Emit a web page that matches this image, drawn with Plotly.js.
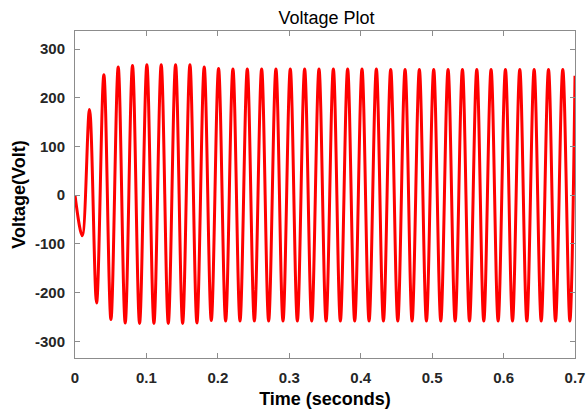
<!DOCTYPE html>
<html>
<head>
<meta charset="utf-8">
<script src="https://cdn.plot.ly/plotly-3.0.1.min.js"></script>
<style>html,body{margin:0;padding:0;background:#fff;}#chart{width:588px;height:409px;}</style>
</head>
<body>
<div id="chart"></div>
<script>
// Extrema of the voltage waveform (start, trough/peak pairs, end)
const timeSec = [0, 0.0101, 0.0203, 0.0302, 0.0404, 0.0503, 0.0605, 0.0703, 0.0805, 0.0904, 0.1006,
  0.1105, 0.1207, 0.1306, 0.1408, 0.1507, 0.1609, 0.1707, 0.1809, 0.1908, 0.2010,
  0.2109, 0.2211, 0.2310, 0.2412, 0.2511, 0.2613, 0.2711, 0.2813, 0.2912, 0.3014,
  0.3113, 0.3215, 0.3314, 0.3416, 0.3515, 0.3617, 0.3715, 0.3817, 0.3916, 0.4018,
  0.4117, 0.4219, 0.4318, 0.4420, 0.4519, 0.4621, 0.4719, 0.4821, 0.4920, 0.5022,
  0.5121, 0.5223, 0.5322, 0.5424, 0.5523, 0.5625, 0.5723, 0.5825, 0.5924, 0.6026,
  0.6125, 0.6227, 0.6326, 0.6428, 0.6527, 0.6629, 0.6727, 0.6829, 0.6928, 0.7];
const voltage = [0, -83, 176, -221, 247, -255, 263, -262, 266, -263, 268,
  -263, 268, -263, 268, -263, 268, -262, 263, -257, 260,
  -258, 259, -258, 259, -258, 259, -258, 259, -258, 259,
  -258, 259, -258, 259, -258, 259, -258, 259, -258, 259,
  -258, 259, -258, 258, -258, 258, -258, 258, -258, 258,
  -258, 258, -258, 258, -258, 258, -258, 258, -258, 258,
  -258, 258, -258, 258, -258, 258, -258, 258, -258, 245];
const xTicks = [0, 0.1, 0.2, 0.3, 0.4, 0.5, 0.6, 0.7];
const xTickText = ['0', '0.1', '0.2', '0.3', '0.4', '0.5', '0.6', '0.7'];
const yTicks = [-300, -200, -100, 0, 100, 200, 300];
const yTickText = ['-300', '-200', '-100', '0', '100', '200', '300'];

const axisCommon = {
  showgrid: false, zeroline: false, showline: true, linecolor: '#8c8c8c', linewidth: 1,
  mirror: 'allticks', ticks: 'inside', ticklen: 5, tickwidth: 1, tickcolor: '#8c8c8c',
  tickfont: {family: 'Liberation Sans, Arial, sans-serif', size: 15, color: '#262626', weight: 'bold'},
  fixedrange: true
};

const data = [{
  x: timeSec, y: voltage, type: 'scatter', mode: 'lines',
  line: {color: '#ff0000', width: 3, shape: 'spline', smoothing: 1},
  hoverinfo: 'skip'
}];

const layout = {
  width: 588, height: 409,
  margin: {l: 75, r: 13, t: 31, b: 51, pad: 0},
  paper_bgcolor: '#ffffff', plot_bgcolor: '#ffffff',
  showlegend: false,
  title: {text: 'Voltage Plot', font: {family: 'Liberation Sans, Arial, sans-serif', size: 18, color: '#000000'},
    x: 0.503, xref: 'paper', xanchor: 'center', y: 1 - 17.5/409, yref: 'container', yanchor: 'middle'},
  xaxis: Object.assign({}, axisCommon, {
    range: [0, 0.7], tickmode: 'array', tickvals: xTicks, ticktext: xTickText, ticklabelstandoff: 6,
    title: {text: 'Time (seconds)', standoff: 8, font: {family: 'Liberation Sans, Arial, sans-serif', size: 18, color: '#000000', weight: 'bold'}}
  }),
  yaxis: Object.assign({}, axisCommon, {
    range: [-334, 337], tickmode: 'array', tickvals: yTicks, ticktext: yTickText, ticklabelstandoff: 6,
    title: {text: 'Voltage(Volt)', standoff: 4, font: {family: 'Liberation Sans, Arial, sans-serif', size: 18, color: '#000000', weight: 'bold'}}
  })
};

Plotly.newPlot('chart', data, layout, {displayModeBar: false, staticPlot: true});
</script>
</body>
</html>
